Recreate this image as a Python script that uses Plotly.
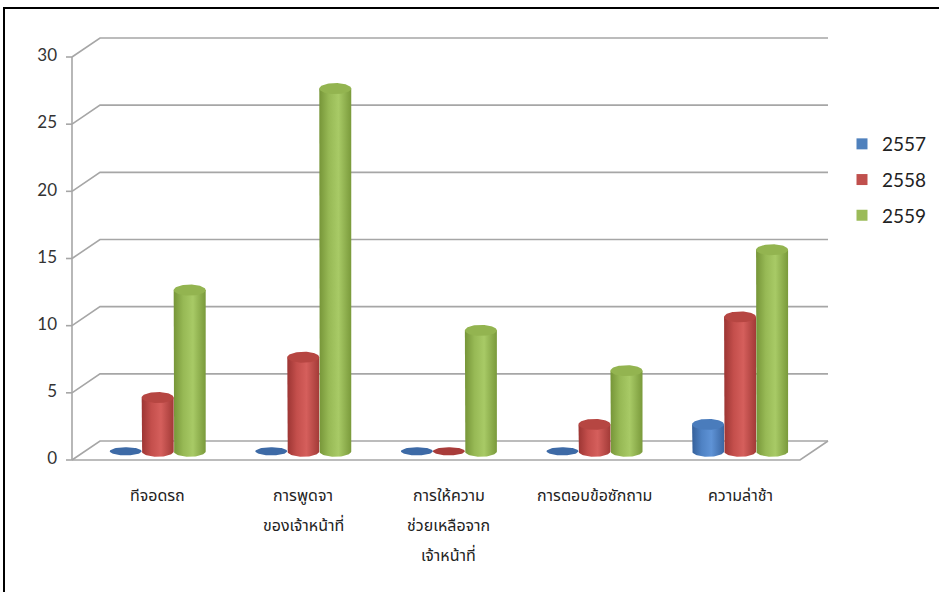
import numpy as np
import plotly.graph_objects as go

# ---- data -------------------------------------------------------------
categories = [
    "ทีจอดรถ",
    "การพูดจา\nของเจ้าหน้าที่",
    "การให้ความ\nช่วยเหลือจาก\nเจ้าหน้าที่",
    "การตอบข้อซักถาม",
    "ความล่าช้า",
]
series_names = ["2557", "2558", "2559"]
values_2557 = [0, 0, 0, 0, 2]
values_2558 = [4, 7, 0, 2, 10]
values_2559 = [12, 27, 9, 6, 15]
y_ticks = [0, 5, 10, 15, 20, 25, 30]

series_values = [values_2557, values_2558, values_2559]

# ---- styling ----------------------------------------------------------
legend_colors = ["#4f81bd", "#c0504d", "#9bbb59"]
body_scales = [
    [[0, "#35609a"], [0.3, "#4f82c4"], [0.6, "#5f93d6"], [1, "#3a66a2"]],
    [[0, "#9c3533"], [0.3, "#c44f4c"], [0.6, "#d55f5c"], [1, "#a23a37"]],
    [[0, "#769538"], [0.3, "#97b955"], [0.6, "#a8ca66"], [1, "#7a9a3b"]],
]
cap_colors = ["#4a7cbc", "#b64642", "#93b450"]
disc_colors = ["#3d6aa6", "#a83c3a", "#87a646"]
grid_color = "#a6a6a6"
thai_font = "Tahoma, 'Noto Sans Thai', 'Noto Sans', sans-serif"
num_font = "Lato, Carlito, 'Open Sans', sans-serif"

# ---- coordinate system (category units on x, value units on y) -------
W, H = 939, 592
ORIGIN_PX = (72, 460)          # where category 0 / value 0 sit on the page
X_SCALE = 145.6                # pixels per category
Y_SCALE = 403 / 30             # pixels per value unit


def px_x(p):
    return p / X_SCALE


def px_y(p):
    return p / Y_SCALE


x_range = [-ORIGIN_PX[0] / X_SCALE, (W - ORIGIN_PX[0]) / X_SCALE]
y_range = [-(H - ORIGIN_PX[1]) / Y_SCALE, ORIGIN_PX[1] / Y_SCALE]

DEPTH_X, DEPTH_Y = px_x(28), px_y(19)   # perspective offset of the back wall
BAR_DEPTH = 0.46                        # cylinders stand part-way into the floor
BAR_W = px_x(32)
CAP_RY = px_y(5.5)
n = len(categories)
y_max = y_ticks[-1]

fig = go.Figure()

# ---- walls, floor and gridlines --------------------------------------
gx, gy = [], []
for v in y_ticks:
    gx += [0, DEPTH_X, n + DEPTH_X, None]
    gy += [v, v + DEPTH_Y, v + DEPTH_Y, None]
# floor front and right edges
gx += [0, n, n + DEPTH_X, None]
gy += [0, 0, DEPTH_Y, None]
# value axis and tick marks
gx += [0, 0, None]
gy += [0, y_max, None]
for v in y_ticks:
    gx += [-px_x(6), 0, None]
    gy += [v, v, None]
fig.add_trace(go.Scatter(x=gx, y=gy, mode="lines",
                         line=dict(color=grid_color, width=1.6),
                         hoverinfo="skip", showlegend=False))

# tick labels
fig.add_trace(go.Scatter(
    x=[-px_x(15)] * len(y_ticks), y=y_ticks, mode="text",
    text=[str(v) for v in y_ticks], textposition="middle left",
    textfont=dict(family=num_font, size=17, color="#333333"),
    hoverinfo="skip", showlegend=False))

# ---- cylinders -------------------------------------------------------
rx = BAR_W / 2
t_half = np.linspace(0, np.pi, 40)
t_full = np.linspace(0, 2 * np.pi, 80)
base = BAR_DEPTH * DEPTH_Y

for s, vals in enumerate(series_values):
    for i, v in enumerate(vals):
        xc = i + 0.5 + BAR_DEPTH * DEPTH_X + (s - 1) * BAR_W
        if v == 0:
            fig.add_trace(go.Scatter(
                x=xc + rx * np.cos(t_full), y=base + CAP_RY * 0.75 * np.sin(t_full),
                mode="lines", fill="toself", fillcolor=disc_colors[s],
                line=dict(width=0), hoverinfo="skip", showlegend=False))
            continue
        top = v + base
        bx = [xc - rx] + list(xc - rx * np.cos(t_half)) + [xc + rx]
        by = [top] + list(base - CAP_RY * np.sin(t_half)) + [top]
        fig.add_trace(go.Scatter(
            x=bx, y=by, mode="lines", fill="toself",
            fillgradient=dict(type="horizontal", colorscale=body_scales[s]),
            line=dict(width=0), hoverinfo="skip", showlegend=False))
        fig.add_trace(go.Scatter(
            x=xc + rx * np.cos(t_full), y=top + CAP_RY * np.sin(t_full),
            mode="lines", fill="toself", fillcolor=cap_colors[s],
            line=dict(width=0), hoverinfo="skip", showlegend=False))

# legend entries
for s, name in enumerate(series_names):
    fig.add_trace(go.Scatter(
        x=[None], y=[None], mode="markers", name=name, legendgroup=name,
        marker=dict(symbol="square", size=11, color=legend_colors[s])))

# ---- category labels -------------------------------------------------
for i, label in enumerate(categories):
    xc = i + 0.5 + BAR_DEPTH * DEPTH_X
    for k, line in enumerate(label.split("\n")):
        fig.add_annotation(
            x=xc, y=-px_y(36 + 30 * k), xref="x", yref="y", text=line,
            showarrow=False, xanchor="center", yanchor="middle",
            font=dict(family=thai_font, size=16, color="#222222"))

fig.update_layout(
    width=W, height=H,
    margin=dict(l=0, r=0, t=0, b=0),
    paper_bgcolor="white", plot_bgcolor="white",
    xaxis=dict(range=x_range, visible=False, fixedrange=True),
    yaxis=dict(range=y_range, visible=False, fixedrange=True),
    legend=dict(x=842 / W, y=1 - 125 / H, xanchor="left", yanchor="top",
                font=dict(family=num_font, size=19, color="#222222"),
                tracegroupgap=8, itemwidth=30, bgcolor="rgba(0,0,0,0)"),
    showlegend=True,
    shapes=[dict(type="rect", xref="paper", yref="paper",
                 x0=4 / W, x1=1.2, y0=-0.2, y1=1 - 8 / H,
                 line=dict(color="black", width=2), fillcolor="rgba(0,0,0,0)")],
)

fig.write_html("out.html")
